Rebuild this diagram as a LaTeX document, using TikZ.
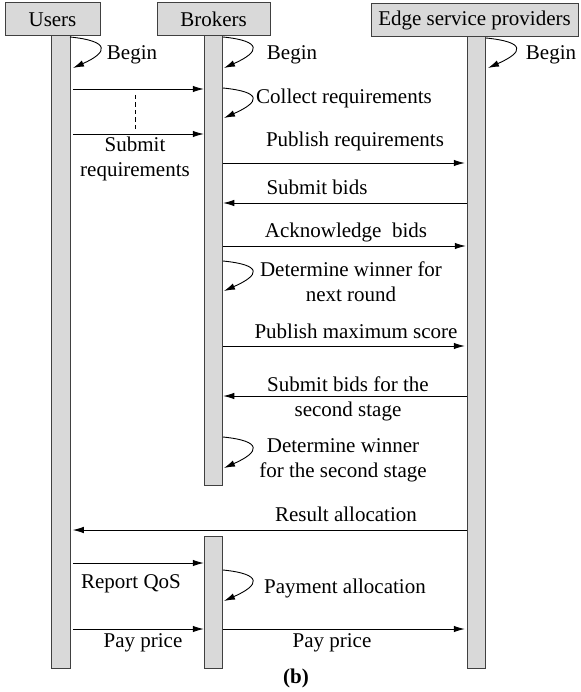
\documentclass[tikz,border=0pt]{standalone}
\usepackage{fontspec}
\setmainfont{Liberation Serif}
\usetikzlibrary{arrows.meta,positioning,calc}
\definecolor{barfill}{HTML}{D9D9D9}
\definecolor{bardraw}{HTML}{404040}
\tikzset{
  every node/.style={font=\fontsize{21}{25}\selectfont, inner sep=0pt},
  head/.style={draw=bardraw, fill=barfill, line width=1pt, minimum height=33pt},
  bar/.style={draw=bardraw, fill=barfill, line width=1pt, minimum width=18.5pt},
  msg/.style={line width=0.9pt, -{Latex[length=11pt,width=6.5pt]}},
  selfloop/.style={line width=0.9pt, -{Latex[length=11pt,width=6.5pt]}},
  lbl/.style={anchor=base, align=center}
}
\def\selfmsg(#1,#2){\draw[selfloop] (#1) .. controls +(40,4) and +(36,-16) .. (#2);}
\begin{document}
\begin{tikzpicture}[x=1pt,y=-1pt]
\useasboundingbox (0,0) rectangle (580,692);
% lifelines
\node (ubar) [bar, minimum height=632pt] at (61,352) {};
\node (bbar) [bar, minimum height=449pt] at (213.5,260.5) {};
\node (bbar2) [bar, minimum height=132pt] at (213.5,602) {};
\node (ebar) [bar, minimum height=631pt] at (476.5,352.5) {};
% headers
\node (users) [head, minimum width=95pt] at (52.5,19.5) {Users};
\node (brokers) [head, minimum width=113pt] at (213.5,19.5) {Brokers};
\node (edge) [head, minimum width=207pt] at (474.5,20) {Edge service providers};
% message rows
\coordinate (r1) at (0,89);
\coordinate (r2) at (0,134);
\coordinate (r3) at (0,163);
\coordinate (r4) at (0,203);
\coordinate (r5) at (0,246);
\coordinate (r6) at (0,346);
\coordinate (r7) at (0,396);
\coordinate (r8) at (0,530);
\coordinate (r9) at (0,563);
\coordinate (r10) at (0,629);
% self messages
\coordinate (ub1) at (70,37);   \coordinate (ub2) at (73,68);
\coordinate (bb1) at (223,37);  \coordinate (bb2) at (224,68);
\coordinate (eb1) at (486,38);  \coordinate (eb2) at (488,68);
\coordinate (cr1) at (223,88);  \coordinate (cr2) at (224,118);
\coordinate (dw1) at (223,261); \coordinate (dw2) at (224,291);
\coordinate (ds1) at (223,437); \coordinate (ds2) at (224,468);
\coordinate (pa1) at (223,570); \coordinate (pa2) at (224,601);
\selfmsg(ub1,ub2)
\selfmsg(bb1,bb2)
\selfmsg(eb1,eb2)
\selfmsg(cr1,cr2)
\selfmsg(dw1,dw2)
\selfmsg(ds1,ds2)
\selfmsg(pa1,pa2)
% messages
\draw[msg] ([xshift=2pt]ubar.east |- r1) -- (bbar.west |- r1);
\draw[msg] ([xshift=2pt]ubar.east |- r2) -- (bbar.west |- r2);
\coordinate (d1) at (135,95);
\coordinate (d2) at (135,130);
\draw[line width=0.8pt, dash pattern=on 4.5pt off 3pt] (d1) -- (d2);
\draw[msg] (bbar.east |- r3) -- ([xshift=-2pt]ebar.west |- r3);
\draw[msg] (ebar.west |- r4) -- (bbar.east |- r4);
\draw[msg] (bbar.east |- r5) -- ([xshift=-1pt]ebar.west |- r5);
\draw[msg] (bbar.east |- r6) -- ([xshift=-2pt]ebar.west |- r6);
\draw[msg] (ebar.west |- r7) -- (bbar.east |- r7);
\draw[msg] (ebar.west |- r8) -- ([xshift=2pt]ubar.east |- r8);
\draw[msg] ([xshift=2pt]ubar.east |- r9) -- (bbar2.west |- r9);
\draw[msg] ([xshift=2pt]ubar.east |- r10) -- (bbar2.west |- r10);
\draw[msg] (bbar2.east |- r10) -- ([xshift=-2pt]ebar.west |- r10);
% labels
\node (l1) [lbl] at (132,60) {Begin};
\node (l2) [lbl] at (292,60) {Begin};
\node (l3) [lbl] at (551,60) {Begin};
\node (l4) [lbl] at (344,104) {Collect requirements};
\node (l5) [lbl] at (135,177) {Submit\\requirements};
\node (l6) [lbl] at (355,147) {Publish requirements};
\node (l7) [lbl] at (317,195) {Submit bids};
\node (l8) [lbl] at (346,238) {Acknowledge\ \ bids};
\node (l9) [lbl] at (351,301) {Determine winner for\\next round};
\node (l10) [lbl] at (356,338) {Publish maximum score};
\node (l11) [lbl] at (348,416) {Submit bids for the\\second stage};
\node (l12) [lbl] at (343,477) {Determine winner\\for the second stage};
\node (l13) [lbl] at (346,521) {Result allocation};
\node (l14) [lbl] at (131,588) {Report QoS};
\node (l15) [lbl] at (345,593) {Payment allocation};
\node (l16) [lbl] at (143,647) {Pay price};
\node (l17) [lbl] at (332,647) {Pay price};
\node (cap) [lbl, font=\fontsize{21}{25}\selectfont\bfseries] at (296,683) {(b)};
\end{tikzpicture}
\end{document}
